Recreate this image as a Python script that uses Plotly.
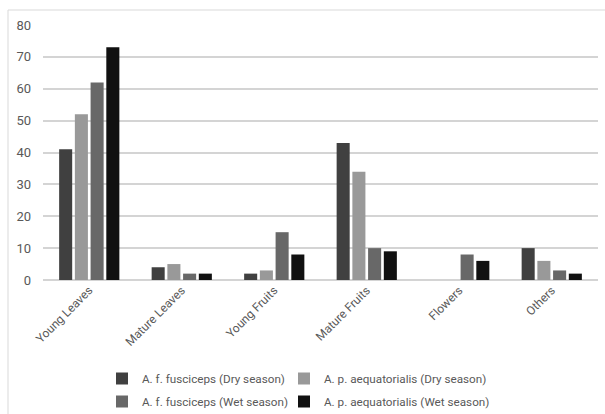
import plotly.graph_objects as go

categories = ["Young Leaves", "Mature Leaves", "Young Fruits", "Mature Fruits", "Flowers", "Others"]
aff_dry = [41, 4, 2, 43, 0, 10]
apa_dry = [52, 5, 3, 34, 0, 6]
aff_wet = [62, 2, 15, 10, 8, 3]
apa_wet = [73, 2, 8, 9, 6, 2]
series_names = ["A. f. fusciceps (Dry season)", "A. p. aequatorialis (Dry season)",
                "A. f. fusciceps (Wet season)", "A. p. aequatorialis (Wet season)"]
colors = ["#404040", "#999999", "#686868", "#111111"]
legends = ["legend", "legend2", "legend3", "legend4"]

fig = go.Figure()
for name, vals, col, lg in zip(series_names, [aff_dry, apa_dry, aff_wet, apa_wet], colors, legends):
    fig.add_trace(go.Bar(x=categories, y=vals, name=name, legend=lg, showlegend=True,
                         marker=dict(color=col, line=dict(width=0))))

W, H = 605, 414
ml, mr, mt, mb = 43, 7, 25, 134
pw, ph = W - ml - mr, H - mt - mb
txt = "#595959"
fam = "Roboto, sans-serif"

def px(x):
    return (x - ml) / pw

def py(y):
    return (H - mb - y) / ph

leg_common = dict(orientation="h", xanchor="left", yanchor="top",
                  font=dict(family=fam, size=11.7, color=txt),
                  itemwidth=30, bgcolor="rgba(0,0,0,0)")

fig.update_layout(
    width=W, height=H,
    showlegend=True,
    margin=dict(l=ml, r=mr, t=mt, b=mb, autoexpand=False),
    paper_bgcolor="white", plot_bgcolor="white",
    barmode="group", bargap=0.32, bargroupgap=0.17,
    font=dict(family=fam, size=12, color=txt),
    xaxis=dict(tickangle=-45, showgrid=False, showline=False, ticks="", automargin=False,
               tickfont=dict(family=fam, size=12, color=txt)),
    yaxis=dict(range=[0, 80], dtick=10, showgrid=True, gridcolor="#d4d4d4", gridwidth=1.5,
               zeroline=True, zerolinecolor="#d4d4d4", zerolinewidth=1.5, automargin=False,
               showline=False, ticks="", ticklabelstandoff=11,
               tickfont=dict(family=fam, size=13, color=txt)),
    legend=dict(x=px(102), y=py(364), **leg_common),
    legend2=dict(x=px(284), y=py(364), **leg_common),
    legend3=dict(x=px(102), y=py(387), **leg_common),
    legend4=dict(x=px(284), y=py(387), **leg_common),
    shapes=[
        dict(type="line", xref="paper", yref="paper", x0=px(8), x1=px(610), y0=py(10), y1=py(10),
             line=dict(color="#d9d9d9", width=1)),
        dict(type="line", xref="paper", yref="paper", x0=px(8), x1=px(8), y0=py(10), y1=py(420),
             line=dict(color="#d9d9d9", width=1)),
    ],
)

fig.write_html("out.html", config={"displayModeBar": False},
               post_script="document.body.style.margin='0';document.body.style.overflow='hidden';"
                           "document.documentElement.style.overflow='hidden';")
